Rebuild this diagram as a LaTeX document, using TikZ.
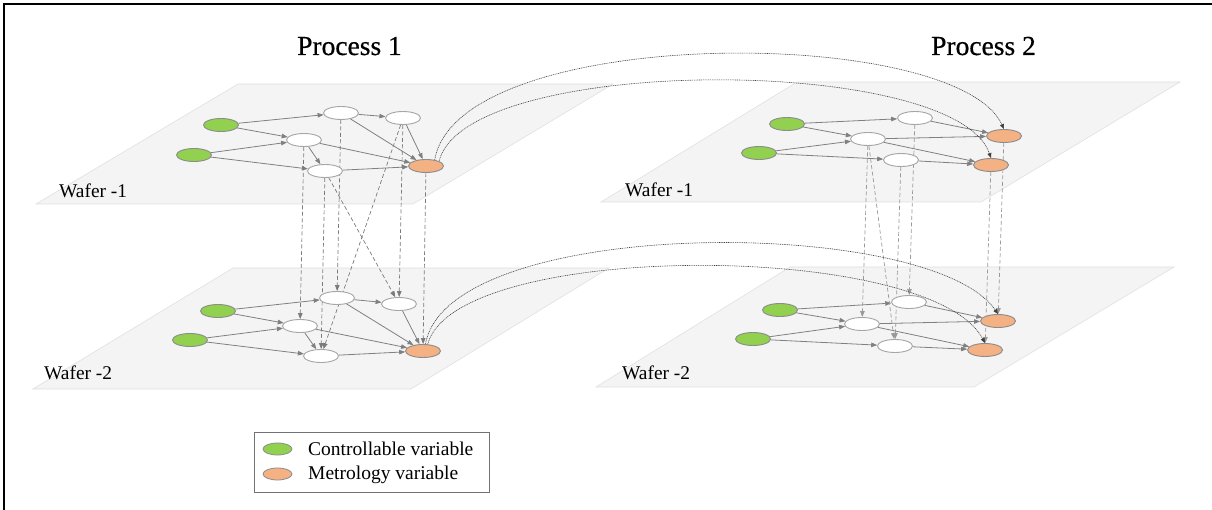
\documentclass[tikz,border=0pt]{standalone}
\usepackage{fontspec}
\setmainfont{Liberation Serif}
\newfontfamily\titlefont[FakeBold=0.6]{Liberation Serif}
\usetikzlibrary{shapes.geometric,arrows.meta}
\definecolor{ctrlgreen}{HTML}{92D050}
\definecolor{metroorange}{HTML}{F4B183}
\definecolor{planefill}{HTML}{F4F4F4}
\definecolor{planeedge}{HTML}{E0E0E0}
\pgfdeclarelayer{bg}
\pgfdeclarelayer{edgelayer}
\pgfsetlayers{bg,edgelayer,main}
\begin{document}
\begin{tikzpicture}[x=1pt,y=-1pt,
  var/.style={ellipse, draw=black!35, line width=0.9pt, minimum width=35pt, minimum height=13pt, inner sep=0pt, fill=white},
  ctrl/.style={var, fill=ctrlgreen, draw=black!45},
  metro/.style={var, fill=metroorange, draw=black!45},
  edge/.style={draw=black!50, line width=0.8pt, -{Triangle[length=6pt,width=4.5pt]}},
  vdash/.style={draw=black!52, line width=0.7pt, dash pattern=on 4pt off 2.5pt, -{Triangle[length=6pt,width=4.5pt]}},
  vdashb/.style={vdash, draw=black!40},
  link/.style={draw=black!75, line width=0.6pt, dash pattern=on 1pt off 0.8pt, -{Triangle[length=5pt,width=4pt]}},
  plane/.style={fill=planefill, draw=planeedge, line width=0.6pt},
  wlabel/.style={font=\fontsize{19.4}{22}\selectfont, anchor=base west, inner sep=0pt},
  ptitle/.style={font=\titlefont\fontsize{27.5}{32}\selectfont, anchor=base, inner sep=0pt},
  legtext/.style={font=\fontsize{19.5}{22}\selectfont, anchor=base west, inner sep=0pt},
  legvar/.style={ellipse, line width=0.8pt, minimum width=29pt, minimum height=12pt, inner sep=0pt, draw=black!45}
]
\path[use as bounding box] (0,0) rectangle (1212,510);

% frame
\draw[line width=1.3pt] (4,510) -- (4,4) -- (1212,4);

% planes
\begin{pgfonlayer}{bg}
\draw[plane] (36,204) -- (413,204) -- (613,84) -- (238,84) -- cycle;
\draw[plane] (33,389) -- (411,389) -- (609,268) -- (233,268) -- cycle;
\draw[plane] (601,202) -- (981,202) -- (1180,82) -- (797,82) -- cycle;
\draw[plane] (596,387) -- (974,387) -- (1174,267) -- (790,267) -- cycle;
\end{pgfonlayer}

% titles and labels
\node[ptitle] (t1) at (349.5,55) {Process 1};
\node[ptitle] (t2) at (983.5,55) {Process 2};
\node[wlabel] (l1) at (59,198) {Wafer -1};
\node[wlabel] (l2) at (44,379) {Wafer -2};
\node[wlabel] (l3) at (625,197) {Wafer -1};
\node[wlabel] (l4) at (622,379) {Wafer -2};

% Process 1, wafer 1
\node[ctrl] (ag1) at (221,125) {};
\node[ctrl] (ag2) at (194,155) {};
\node[var] (ah1) at (341,113) {};
\node[var] (ah2) at (403,118) {};
\node[var] (ah3) at (304,140) {};
\node[var] (ah4) at (325,171) {};
\node[metro] (am) at (426,166) {};
% Process 1, wafer 2
\node[ctrl] (bg1) at (218,311) {};
\node[ctrl] (bg2) at (190,340) {};
\node[var] (bh1) at (337,298) {};
\node[var] (bh2) at (399,304) {};
\node[var] (bh3) at (300,326) {};
\node[var] (bh4) at (321,356) {};
\node[metro] (bm) at (423,351) {};
% Process 2, wafer 1
\node[ctrl] (cg1) at (787,124) {};
\node[ctrl] (cg2) at (759,153) {};
\node[var] (ch1) at (915,118) {};
\node[var] (ch3) at (868,139) {};
\node[var] (ch4) at (901,160) {};
\node[metro] (cm1) at (1004,136) {};
\node[metro] (cm2) at (991,165) {};
% Process 2, wafer 2
\node[ctrl] (dg1) at (780,310) {};
\node[ctrl] (dg2) at (753,339) {};
\node[var] (dh1) at (909,302) {};
\node[var] (dh3) at (862,324) {};
\node[var] (dh4) at (895,346) {};
\node[metro] (dm1) at (998,321) {};
\node[metro] (dm2) at (985,350) {};

\begin{pgfonlayer}{edgelayer}
% in-layer edges, process 1
\foreach \w in {a,b}{
  \draw[edge] (\w g1) -- (\w h1);
  \draw[edge] (\w g1) -- (\w h3);
  \draw[edge] (\w g2) -- (\w h3);
  \draw[edge] (\w g2) -- (\w h4);
  \draw[edge] (\w h1) -- (\w h2);
  \draw[edge] (\w h1) -- (\w m);
  \draw[edge] (\w h3) -- (\w h4);
  \draw[edge] (\w h3) -- (\w m);
  \draw[edge] (\w h4) -- (\w m);
  \draw[edge] (\w h2) -- (\w m);
}
% in-layer edges, process 2
\foreach \w in {c,d}{
  \draw[edge] (\w g1) -- (\w h1);
  \draw[edge] (\w g1) -- (\w h3);
  \draw[edge] (\w g2) -- (\w h3);
  \draw[edge] (\w g2) -- (\w h4);
  \draw[edge] (\w h1) -- (\w m1);
  \draw[edge] (\w h3) -- (\w m1);
  \draw[edge] (\w h3) -- (\w m2);
  \draw[edge] (\w h4) -- (\w m2);
}
% wafer-to-wafer, process 1
\draw[vdash] (ah3) -- (bh3);
\draw[vdash] (ah4) -- (bh4);
\draw[vdash] (ah4) -- (bh2);
\draw[vdash] (ah1) -- (bh1);
\draw[vdash] (ah2) -- (bh2);
\draw[vdash] (ah2) -- (bh4);
\draw[vdash] (am) -- (bm);
% wafer-to-wafer, process 2
\draw[vdashb] (ch3) -- (dh3);
\draw[vdashb] (ch3) -- (dh4);
\draw[vdashb] (ch4) -- (dh4);
\draw[vdashb] (ch1) -- (dh1);
\draw[vdashb] (cm2) -- (dm2);
\draw[vdashb] (cm1) -- (dm1);
% process-to-process links
\draw[link] (am.35) .. controls (458,24) and (955,24) .. (cm1.north);
\draw[link] (am.20) .. controls (465,54) and (955,54) .. (cm2.north);
\draw[link] (bm.70) .. controls (448,215) and (930,215) .. (dm1.north);
\draw[link] (bm.55) .. controls (455,240) and (930,240) .. (dm2.north);
\end{pgfonlayer}

% legend
\node[draw=black!55, line width=0.8pt, minimum width=235pt, minimum height=60pt, inner sep=0pt] (legbox) at (371.5,462) {};
\node[legvar, fill=ctrlgreen] (leg1) at (277.5,449) {};
\node[legvar, fill=metroorange] (leg2) at (277.5,474) {};
\node[legtext] (legt1) at (308,455) {Controllable variable};
\node[legtext] (legt2) at (308,479) {Metrology variable};
\end{tikzpicture}
\end{document}
